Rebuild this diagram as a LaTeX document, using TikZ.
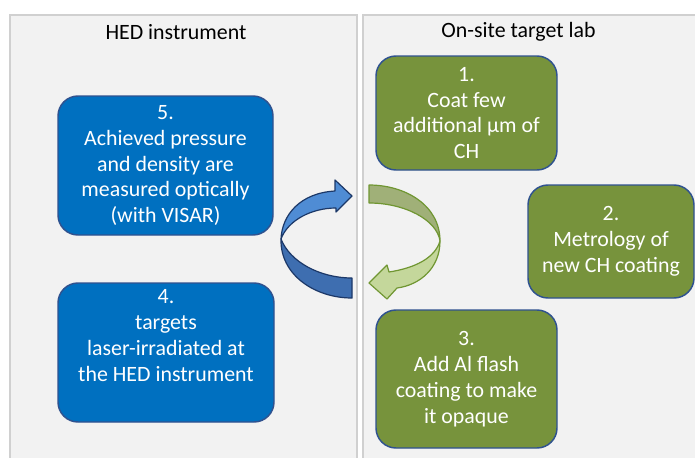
\documentclass[tikz,border=0pt]{standalone}
\usepackage{fontspec}
\setmainfont{Carlito}
\definecolor{boxblue}{RGB}{0,112,192}
\definecolor{boxgreen}{RGB}{119,147,60}
\definecolor{boxline}{RGB}{47,82,143}
\definecolor{panelfill}{RGB}{242,242,242}
\definecolor{panelline}{RGB}{208,208,208}
\definecolor{arrlight}{RGB}{79,140,212}
\definecolor{arrdark}{RGB}{62,110,176}
\definecolor{arrline}{RGB}{28,56,104}
\definecolor{glight}{RGB}{196,215,155}
\definecolor{gdark}{RGB}{160,176,120}
\definecolor{gline}{RGB}{112,150,50}
\tikzset{
  stepbox/.style={draw=boxline, line width=1.1pt, rounded corners=15pt, text=white,
    align=center, inner sep=0pt, font=\fontsize{16.4}{19.4}\selectfont},
  panel/.style={draw=panelline, fill=panelfill, line width=1.3pt},
  paneltitle/.style={text=black, inner sep=0pt, font=\fontsize{16.4}{19.4}\selectfont},
  bluearrow/.style={draw=arrline, line width=0.9pt, line join=round},
  greenarrow/.style={draw=gline, line width=0.9pt, line join=round}
}
\begin{document}
\begin{tikzpicture}[x=0.75pt, y=-0.75pt]
\useasboundingbox (0,0) rectangle (695,457);
\clip (0,0) rectangle (695,457);
\fill[white] (0,0) rectangle (695,457);
% panels
\draw[panel] (10,15) rectangle (357,475);
\draw[panel] (363,15) rectangle (715,475);
\node[paneltitle] (t1) at (176,32) {HED instrument};
\node[paneltitle] (t2) at (518.5,32) {On-site target lab};
% left boxes
\node[stepbox, fill=boxblue, minimum width=161.25pt, minimum height=104.25pt] (s5) at (165.5,165.5)
  {5.\\Achieved pressure\\and density are\\measured optically\\(with VISAR)};
\node[stepbox, fill=boxblue, minimum width=162pt, minimum height=104.25pt] (s4) at (166,352.5)
  {4.\\targets\\laser-irradiated at\\the HED instrument\\\strut};
% right boxes
\node[stepbox, fill=boxgreen, minimum width=135.75pt, minimum height=85.5pt] (s1) at (466.5,113)
  {1.\\Coat few\\additional µm of\\CH};
\node[stepbox, fill=boxgreen, minimum width=124.5pt, minimum height=84.75pt] (s2) at (611,241.5)
  {2.\\Metrology of\\new CH coating};
\node[stepbox, fill=boxgreen, minimum width=135.75pt, minimum height=103.5pt] (s3) at (466.5,379)
  {3.\\Add Al flash\\coating to make\\it opaque};
% blue curved arrow (4 -> 5 side)
\draw[bluearrow, fill=arrdark] (281,239) .. controls (280,275) and (315,298) .. (352,298)
  -- (352,278) .. controls (320,278) and (290,262) .. (281,239) -- cycle;
\draw[bluearrow, fill=arrlight] (281,239) .. controls (282,215) and (300,193) .. (335,191)
  -- (335,180) -- (352,196) -- (336,212) -- (336,208)
  .. controls (312,208) and (288,220) .. (281,239) -- cycle;
% green curved arrow (lab side)
\draw[greenarrow, fill=gdark] (369,185) .. controls (405,185) and (440,205) .. (440,241)
  .. controls (437,220) and (405,203) .. (369,203) -- cycle;
\draw[greenarrow, fill=glight] (440,241) .. controls (440,268) and (420,285) .. (397,288)
  -- (387,299) -- (369,283) -- (387,265) -- (389,272)
  .. controls (415,268) and (435,258) .. (440,241) -- cycle;
\end{tikzpicture}
\end{document}
